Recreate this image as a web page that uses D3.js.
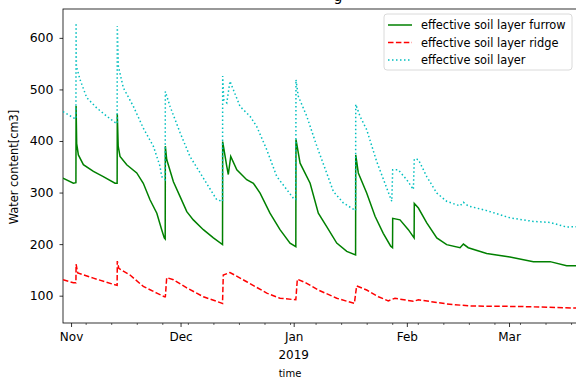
<!DOCTYPE html>
<html>
<head>
<meta charset="utf-8">
<script src="https://cdn.jsdelivr.net/npm/d3@7"></script>
<style>
  body { margin: 0; background: #fff; }
  svg { font-family: "DejaVu Sans", sans-serif; }
</style>
</head>
<body>
<div id="chart"></div>
<script>
// values, [time, water content cm3]
var furrow = [
  ['2018-10-29 19:00', 328], ['2018-11-01 15:00', 318], ['2018-11-02 08:00', 319],
  ['2018-11-02 09:00', 468], ['2018-11-02 13:00', 395], ['2018-11-03 00:00', 373],
  ['2018-11-04 09:00', 354], ['2018-11-07 03:00', 341], ['2018-11-09 20:00', 331],
  ['2018-11-13 01:00', 318], ['2018-11-13 15:00', 318], ['2018-11-13 16:00', 453],
  ['2018-11-13 22:00', 390], ['2018-11-14 10:00', 370], ['2018-11-16 06:00', 354],
  ['2018-11-19 00:00', 338], ['2018-11-20 19:00', 318], ['2018-11-22 15:00', 286],
  ['2018-11-24 12:00', 260], ['2018-11-25 20:00', 228], ['2018-11-26 13:00', 212],
  ['2018-11-26 19:00', 210], ['2018-11-26 20:00', 390], ['2018-11-27 05:00', 364],
  ['2018-11-29 01:00', 321], ['2018-11-30 21:00', 292], ['2018-12-02 17:00', 263],
  ['2018-12-04 12:00', 247], ['2018-12-07 06:00', 228], ['2018-12-10 00:00', 212],
  ['2018-12-12 12:00', 199], ['2018-12-12 13:00', 399], ['2018-12-13 16:00', 351],
  ['2018-12-14 02:00', 335], ['2018-12-14 18:00', 370], ['2018-12-16 10:00', 344],
  ['2018-12-19 03:00', 325], ['2018-12-20 23:00', 318], ['2018-12-22 19:00', 299],
  ['2018-12-25 12:00', 260], ['2018-12-28 06:00', 228], ['2018-12-31 00:00', 202],
  ['2019-01-01 14:00', 195], ['2019-01-01 15:00', 403], ['2019-01-02 18:00', 357],
  ['2019-01-05 12:00', 318], ['2019-01-07 18:00', 260], ['2019-01-10 01:00', 234],
  ['2019-01-12 19:00', 202], ['2019-01-15 13:00', 186], ['2019-01-17 23:00', 179],
  ['2019-01-18 00:00', 373], ['2019-01-18 17:00', 338], ['2019-01-21 00:00', 299],
  ['2019-01-23 07:00', 254], ['2019-01-25 13:00', 221], ['2019-01-27 14:00', 196],
  ['2019-01-28 02:00', 193], ['2019-01-28 03:00', 250], ['2019-01-30 03:00', 247],
  ['2019-02-01 10:00', 228], ['2019-02-02 19:00', 214], ['2019-02-03 00:00', 212],
  ['2019-02-03 01:00', 279], ['2019-02-04 04:00', 270], ['2019-02-06 11:00', 241],
  ['2019-02-09 05:00', 212], ['2019-02-11 22:00', 199], ['2019-02-15 14:00', 193],
  ['2019-02-16 12:00', 200], ['2019-02-17 20:00', 193], ['2019-02-22 21:00', 182],
  ['2019-03-01 06:00', 175], ['2019-03-07 16:00', 166], ['2019-03-12 06:00', 166],
  ['2019-03-16 19:00', 158], ['2019-03-19 15:00', 158]
];

var ridge = [
  ['2018-10-29 19:00', 131], ['2018-11-01 15:00', 125], ['2018-11-02 08:00', 125],
  ['2018-11-02 09:00', 161], ['2018-11-02 20:00', 144], ['2018-11-07 03:00', 134],
  ['2018-11-13 01:00', 121], ['2018-11-13 15:00', 120], ['2018-11-13 16:00', 167],
  ['2018-11-14 02:00', 153], ['2018-11-17 04:00', 140], ['2018-11-20 19:00', 118],
  ['2018-11-24 12:00', 105], ['2018-11-26 13:00', 98], ['2018-11-26 20:00', 98],
  ['2018-11-27 05:00', 135], ['2018-11-29 01:00', 131], ['2018-12-02 17:00', 115],
  ['2018-12-07 06:00', 98], ['2018-12-12 12:00', 85], ['2018-12-12 17:00', 140],
  ['2018-12-14 13:00', 145], ['2018-12-19 03:00', 127], ['2018-12-24 15:00', 105],
  ['2018-12-28 06:00', 95], ['2019-01-01 14:00', 92], ['2019-01-02 00:00', 132],
  ['2019-01-04 14:00', 124], ['2019-01-07 18:00', 111], ['2019-01-12 19:00', 95],
  ['2019-01-17 15:00', 85], ['2019-01-18 06:00', 119], ['2019-01-21 00:00', 111],
  ['2019-01-24 05:00', 98], ['2019-01-26 22:00', 90], ['2019-01-28 18:00', 95],
  ['2019-02-02 19:00', 89], ['2019-02-04 04:00', 92], ['2019-02-11 22:00', 84],
  ['2019-02-18 08:00', 80], ['2019-03-04 00:00', 79], ['2019-03-19 15:00', 76]
];

var soil = [
  ['2018-10-29 19:00', 457], ['2018-11-01 15:00', 445], ['2018-11-02 08:00', 443],
  ['2018-11-02 09:00', 629], ['2018-11-02 11:00', 545], ['2018-11-03 11:00', 519],
  ['2018-11-05 07:00', 484], ['2018-11-08 01:00', 464], ['2018-11-10 19:00', 448],
  ['2018-11-13 01:00', 436], ['2018-11-13 15:00', 434], ['2018-11-13 16:00', 623],
  ['2018-11-13 23:00', 545], ['2018-11-15 08:00', 503], ['2018-11-18 02:00', 467],
  ['2018-11-20 19:00', 425], ['2018-11-23 13:00', 390], ['2018-11-25 09:00', 351],
  ['2018-11-25 20:00', 331], ['2018-11-26 19:00', 325], ['2018-11-26 20:00', 496],
  ['2018-11-28 03:00', 467], ['2018-11-30 21:00', 416], ['2018-12-03 14:00', 370],
  ['2018-12-07 06:00', 328], ['2018-12-10 22:00', 286], ['2018-12-12 12:00', 283],
  ['2018-12-12 13:00', 526], ['2018-12-12 20:00', 480], ['2018-12-13 16:00', 474],
  ['2018-12-14 13:00', 516], ['2018-12-17 07:00', 467], ['2018-12-20 01:00', 448],
  ['2018-12-21 21:00', 428], ['2018-12-24 15:00', 383], ['2018-12-27 09:00', 331],
  ['2018-12-31 22:00', 289], ['2019-01-01 14:00', 287], ['2019-01-01 15:00', 519],
  ['2019-01-02 06:00', 487], ['2019-01-04 14:00', 448], ['2019-01-07 08:00', 390],
  ['2019-01-10 01:00', 338], ['2019-01-11 21:00', 302], ['2019-01-14 14:00', 280],
  ['2019-01-17 23:00', 265], ['2019-01-18 00:00', 471], ['2019-01-19 04:00', 448],
  ['2019-01-21 00:00', 422], ['2019-01-23 18:00', 360], ['2019-01-27 21:00', 283],
  ['2019-01-28 03:00', 344], ['2019-01-29 16:00', 344], ['2019-01-31 23:00', 325],
  ['2019-02-02 19:00', 306], ['2019-02-03 01:00', 365], ['2019-02-04 04:00', 364],
  ['2019-02-06 11:00', 331], ['2019-02-09 05:00', 299], ['2019-02-11 22:00', 283],
  ['2019-02-15 14:00', 274], ['2019-02-16 12:00', 281], ['2019-02-17 20:00', 274],
  ['2019-02-22 21:00', 265], ['2019-03-01 06:00', 251], ['2019-03-07 16:00', 244],
  ['2019-03-12 06:00', 242], ['2019-03-16 19:00', 233], ['2019-03-19 15:00', 234]
];

var seriesNames = ['effective soil layer furrow', 'effective soil layer ridge', 'effective soil layer'];
var yTicks = [100, 200, 300, 400, 500, 600];
var monthTicks = ['2018-11-01', '2018-12-01', '2019-01-01', '2019-02-01', '2019-03-01'];
var monthLabels = ['Nov', 'Dec', 'Jan', 'Feb', 'Mar'];

var parseTime = d3.timeParse('%Y-%m-%d %H:%M');
var parseDay = d3.timeParse('%Y-%m-%d');

var fullWidth = 576, fullHeight = 380;
var margin = {top: 9, right: -1, bottom: 57, left: 63};
var width = fullWidth - margin.left - margin.right;
var height = fullHeight - margin.top - margin.bottom;

var svg = d3.select('#chart').append('svg')
  .attr('width', fullWidth)
  .attr('height', fullHeight);

// only the foot of the title is inside the picture
svg.append('text')
  .attr('x', 338).attr('y', 0.5)
  .attr('text-anchor', 'middle')
  .style('font-size', '14px')
  .text('g');

var g = svg.append('g').attr('transform', 'translate(' + margin.left + ',' + margin.top + ')');

var series = [
  {name: seriesNames[0], data: furrow, color: '#008000', dash: null},
  {name: seriesNames[1], data: ridge, color: '#ff0000', dash: '5.5,2.4'},
  {name: seriesNames[2], data: soil, color: '#00bfbf', dash: '1.5,2.5'}
];
series.forEach(function(s) {
  s.points = s.data.map(function(d) { return {t: parseTime(d[0]), v: d[1]}; });
});

var x = d3.scaleTime()
  .domain(d3.extent(furrow, function(d) { return parseTime(d[0]); }))
  .range([0, width]);
var y = d3.scaleLinear().domain([47, 656]).range([height, 0]);

// frame
g.append('rect').attr('width', width).attr('height', height)
  .attr('fill', 'none').attr('stroke', '#000').attr('stroke-width', 0.8);

// y axis
var yAxis = g.append('g').call(d3.axisLeft(y).tickValues(yTicks).tickSize(3.5).tickPadding(6));
yAxis.select('.domain').remove();
yAxis.selectAll('text').style('font-size', '12.5px').style('font-family', 'DejaVu Sans').attr('fill', '#000');
yAxis.selectAll('line').attr('stroke-width', 0.8);

// x axis: weekly minor ticks, monthly labelled ticks
var minor = d3.timeMonday.range(x.domain()[0], x.domain()[1]);
g.append('g').attr('transform', 'translate(0,' + height + ')')
  .call(d3.axisBottom(x).tickValues(minor).tickSize(2).tickFormat(''))
  .call(function(a) { a.select('.domain').remove(); a.selectAll('line').attr('stroke-width', 0.6); });

var xAxis = g.append('g').attr('transform', 'translate(0,' + height + ')')
  .call(d3.axisBottom(x).tickValues(monthTicks.map(parseDay)).tickSize(4).tickPadding(5)
    .tickFormat(function(d, i) { return monthLabels[i]; }));
xAxis.select('.domain').remove();
xAxis.selectAll('line').attr('stroke-width', 0.8);
xAxis.selectAll('text').style('font-size', '12px').style('font-family', 'DejaVu Sans').attr('fill', '#000');

g.append('text')
  .attr('x', x(parseDay('2019-01-01'))).attr('y', height + 36)
  .attr('text-anchor', 'middle').style('font-size', '12px')
  .text('2019');

g.append('text')
  .attr('x', width / 2 - 30).attr('y', height + 54)
  .attr('text-anchor', 'middle').style('font-size', '10px')
  .text('time');

g.append('text')
  .attr('transform', 'translate(-45,' + (167 - margin.top) + ') rotate(-90)')
  .attr('text-anchor', 'middle').style('font-size', '11.4px')
  .text('Water content[cm3]');

// lines
var line = d3.line().x(function(d) { return x(d.t); }).y(function(d) { return y(d.v); });
var clip = g.append('clipPath').attr('id', 'plotclip')
  .append('rect').attr('width', width).attr('height', height);
g.append('g').attr('clip-path', 'url(#plotclip)')
  .selectAll('path.series')
  .data(series)
  .enter()
  .append('path')
  .classed('series', true)
  .attr('d', function(s) { return line(s.points); })
  .attr('fill', 'none')
  .attr('stroke', function(s) { return s.color; })
  .attr('stroke-width', 1.5)
  .attr('stroke-dasharray', function(s) { return s.dash; });

// legend
var legend = svg.append('g').attr('transform', 'translate(384,14)');
legend.append('rect')
  .attr('width', 188).attr('height', 56).attr('rx', 3)
  .attr('fill', '#fff').attr('fill-opacity', 0.8)
  .attr('stroke', '#d0d0d0').attr('stroke-width', 0.8);
var rows = legend.selectAll('g.row')
  .data(series)
  .enter()
  .append('g')
  .classed('row', true)
  .attr('transform', function(s, i) { return 'translate(0,' + (11 + i * 17.5) + ')'; });
rows.append('line')
  .attr('x1', 4).attr('x2', 28)
  .attr('stroke', function(s) { return s.color; })
  .attr('stroke-width', 1.5)
  .attr('stroke-dasharray', function(s) { return s.dash; });
rows.append('text')
  .attr('x', 37).attr('dy', '0.35em')
  .style('font-size', '11.4px')
  .text(function(s) { return s.name; });
</script>
</body>
</html>
